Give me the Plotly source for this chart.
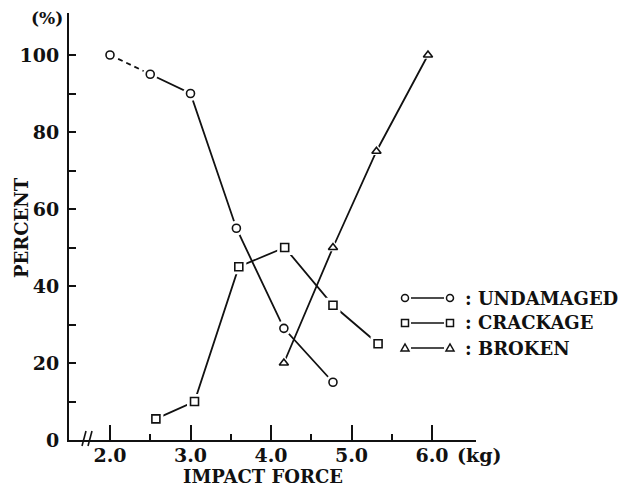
import plotly.graph_objects as go

# ---- data ----
x_undamaged = [2.0, 2.5, 3.0, 3.57, 4.16, 4.77]
y_undamaged = [100, 95, 90, 55, 29, 15]
x_crackage = [2.57, 3.05, 3.6, 4.17, 4.77, 5.33]
y_crackage = [5.5, 10, 45, 50, 35, 25]
x_broken = [4.16, 4.77, 5.31, 5.95]
y_broken = [20, 50, 75, 100]

x_tickvals = [2.0, 3.0, 4.0, 5.0, 6.0]
x_ticktext = ["2.0", "3.0", "4.0", "5.0", "6.0"]
x_minorvals = [2.5, 3.5, 4.5, 5.5]
y_tickvals = [0, 20, 40, 60, 80, 100]
y_minorvals = [10, 30, 50, 70, 90]
legend_names = ["UNDAMAGED", "CRACKAGE", "BROKEN"]

# ---- geometry (window pixel targets; page body has an 8px margin) ----
W, H = 631, 488
OFF = 8
AX_L, AX_R, AX_T, AX_B = 69, 476, 13, 440   # window pixels of plot area
L = AX_L - OFF
T = AX_T - OFF
R = W - (AX_R - OFF)
B = H - (AX_B - OFF)
PW, PH = AX_R - AX_L, AX_B - AX_T
FONT = "DejaVu Serif"
BLACK = "#111111"


def px(x):
    """window x pixel -> paper coordinate"""
    return (x - AX_L) / PW


def py(y):
    """window y pixel -> paper coordinate"""
    return (AX_B - y) / PH


fig = go.Figure()


def series(xs, ys, symbol, dash_first=False):
    if dash_first:
        fig.add_trace(go.Scatter(x=xs[:2], y=ys[:2], mode="lines",
                                 line=dict(color=BLACK, width=1.8, dash="5px,4px"),
                                 showlegend=False, hoverinfo="skip"))
        fig.add_trace(go.Scatter(x=xs[1:], y=ys[1:], mode="lines",
                                 line=dict(color=BLACK, width=1.8),
                                 showlegend=False, hoverinfo="skip"))
    else:
        fig.add_trace(go.Scatter(x=xs, y=ys, mode="lines",
                                 line=dict(color=BLACK, width=1.8),
                                 showlegend=False, hoverinfo="skip"))
    # white halo to create the gap between line and marker
    fig.add_trace(go.Scatter(x=xs, y=ys, mode="markers",
                             marker=dict(symbol=symbol.replace("-open", ""), size=15,
                                         color="white", line=dict(width=0)),
                             showlegend=False, hoverinfo="skip"))
    fig.add_trace(go.Scatter(x=xs, y=ys, mode="markers",
                             marker=dict(symbol=symbol, size=8, color=BLACK,
                                         line=dict(width=1.6, color=BLACK)),
                             showlegend=False))


series(x_undamaged, y_undamaged, "circle-open", dash_first=True)
series(x_crackage, y_crackage, "square-open")
series(x_broken, y_broken, "triangle-up-open")

axis_font = dict(family=FONT, size=19, color=BLACK, weight="bold")

x0 = 2 - (110 - AX_L) / 80.5
fig.update_xaxes(range=[x0, x0 + PW / 80.5],
                 showline=True, linecolor=BLACK, linewidth=2,
                 showgrid=False, zeroline=False,
                 ticks="inside", ticklen=15, tickwidth=2, tickcolor=BLACK,
                 tickvals=x_tickvals, ticktext=x_ticktext, tickfont=axis_font,
                 ticklabelstandoff=-3,
                 minor=dict(tickvals=x_minorvals, ticks="inside", ticklen=6,
                            tickwidth=2, tickcolor=BLACK))
fig.update_yaxes(range=[0, PH / 3.85],
                 showline=True, linecolor=BLACK, linewidth=2,
                 showgrid=False, zeroline=False,
                 ticks="inside", ticklen=7, tickwidth=2, tickcolor=BLACK,
                 tickvals=y_tickvals, tickfont=axis_font, ticklabelstandoff=4,
                 minor=dict(tickvals=y_minorvals, ticks="inside", ticklen=7,
                            tickwidth=2, tickcolor=BLACK))

shapes = []
annotations = []

# axis break marks
for xb in (84, 90):
    shapes.append(dict(type="line", xref="paper", yref="paper",
                       x0=px(xb - 2), y0=py(446), x1=px(xb + 2), y1=py(431),
                       line=dict(color=BLACK, width=1.6)))

# custom legend
rows = [298, 323, 348]
mx0, mx1 = 405, 450
for name, yrow, kind in zip(legend_names, rows, ["circle", "square", "triangle"]):
    shapes.append(dict(type="line", xref="paper", yref="paper",
                       x0=px(mx0 + 6), y0=py(yrow), x1=px(mx1 - 6), y1=py(yrow),
                       line=dict(color=BLACK, width=1.6)))
    for cx in (mx0, mx1):
        r = 3.5
        if kind == "circle":
            shapes.append(dict(type="circle", xref="paper", yref="paper",
                               x0=px(cx - r), x1=px(cx + r), y0=py(yrow + r), y1=py(yrow - r),
                               line=dict(color=BLACK, width=1.5)))
        elif kind == "square":
            shapes.append(dict(type="rect", xref="paper", yref="paper",
                               x0=px(cx - r), x1=px(cx + r), y0=py(yrow + r), y1=py(yrow - r),
                               line=dict(color=BLACK, width=1.5)))
        else:
            path = "M {} {} L {} {} L {} {} Z".format(px(cx - 4), py(yrow + 3),
                                                      px(cx + 4), py(yrow + 3),
                                                      px(cx), py(yrow - 4))
            shapes.append(dict(type="path", xref="paper", yref="paper", path=path,
                               line=dict(color=BLACK, width=1.5)))
    annotations.append(dict(xref="paper", yref="paper", x=px(463), y=py(yrow),
                            xanchor="left", yanchor="middle", showarrow=False,
                            text=": " + name,
                            font=dict(family=FONT, size=18, color=BLACK, weight="bold")))


def label(text, x, y, size, angle=0, xanchor="center"):
    annotations.append(dict(xref="paper", yref="paper", x=px(x), y=py(y),
                            xanchor=xanchor, yanchor="middle", showarrow=False,
                            textangle=angle, text=text,
                            font=dict(family=FONT, size=size, color=BLACK, weight="bold")))


label("(%)", 47, 18, 17)
label("PERCENT", 21, 228, 18, angle=-90)
label("IMPACT FORCE", 263, 476, 18)
label("(kg)", 455, 455, 19, xanchor="left")

fig.update_layout(width=W, height=H, margin=dict(l=L, r=R, t=T, b=B),
                  paper_bgcolor="white", plot_bgcolor="white",
                  shapes=shapes, annotations=annotations, showlegend=False)

fig.write_html("out.html")
